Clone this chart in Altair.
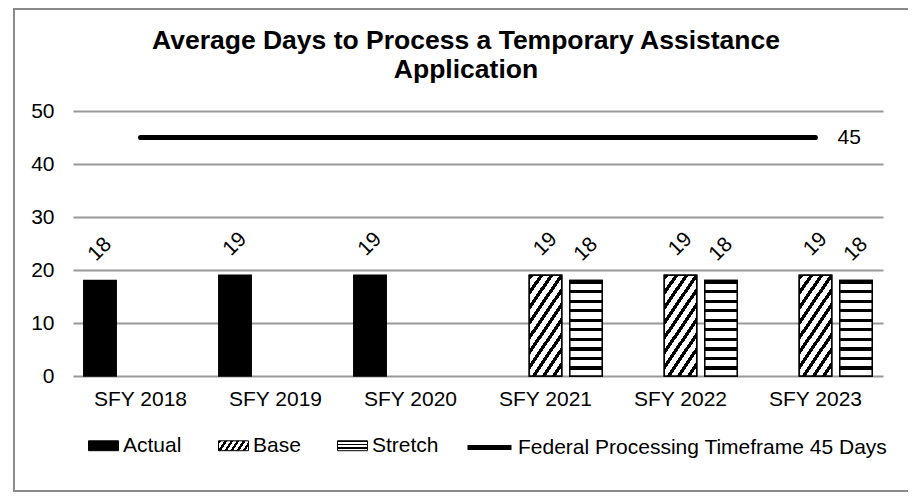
import json
import altair as alt
import pandas as pd

FONT = "Liberation Sans"
FS = 21

categories = ["SFY 2018", "SFY 2019", "SFY 2020", "SFY 2021", "SFY 2022", "SFY 2023"]
actual = [18, 19, 19, None, None, None]
base = [None, None, None, 19, 19, 19]
stretch = [None, None, None, 18, 18, 18]
federal = [45, 45, 45, 45, 45, 45]
series_names = ["Actual", "Base", "Stretch"]
federal_name = "Federal Processing Timeframe 45 Days"
title_lines = ["Average Days to Process a Temporary Assistance", "Application"]
y_ticks = [0, 10, 20, 30, 40, 50]

rows = []
for name, vals in zip(series_names, [actual, base, stretch]):
    for c, v in zip(categories, vals):
        if v is not None:
            rows.append({"category": c, "series": name, "value": v})
bars_df = pd.DataFrame(rows)
line_df = pd.DataFrame({"category": categories, "value": federal,
                        "line_series": [federal_name] * len(categories)})


def stripes(n, black_frac, x2, y2):
    stops = []
    for i in range(n):
        a = round(i / n, 4)
        b = round((i + black_frac) / n, 4)
        c = round((i + 1) / n, 4)
        stops += [{"offset": a, "color": "black"}, {"offset": b, "color": "black"},
                  {"offset": b, "color": "white"}, {"offset": c, "color": "white"}]
    return {"gradient": "linear", "x1": 0, "y1": 0, "x2": x2, "y2": y2, "stops": stops}


base_grad = stripes(10, 0.4, 0.572, 1.2035)
stretch_grad = stripes(10, 0.33, 0, 1)
base_leg = stripes(6, 0.45, 1.165, 0.259)
stretch_leg = stripes(3, 0.4, 0, 1)

x_enc = alt.X("category:N", sort=categories,
              scale=alt.Scale(domain=categories, paddingInner=0.1, paddingOuter=0.05),
              axis=alt.Axis(title=None, labelAngle=0, domain=False, ticks=False,
                            labelPadding=12, labelFontSize=FS, labelFont=FONT,
                            labelColor="black"))
xoff = alt.XOffset("series:N", scale=alt.Scale(domain=series_names, paddingInner=0.2,
                                               paddingOuter=0.1))
y_enc = alt.Y("value:Q", scale=alt.Scale(domain=[0, 50]),
              axis=alt.Axis(title=None, values=y_ticks, domain=False, ticks=False,
                            labelPadding=19, labelFontSize=FS, labelFont=FONT,
                            labelColor="black", gridColor="#999999", gridWidth=2))

border = alt.Chart(pd.DataFrame({"a": [0]})).mark_rect(
    filled=False, stroke="#8a8a8a", strokeWidth=2
).encode(x=alt.value(-59), x2=alt.value(837), y=alt.value(-102), y2=alt.value(380))

bars = alt.Chart(bars_df).mark_bar(stroke="black", strokeWidth=1.5).encode(
    x=x_enc, xOffset=xoff, y=y_enc,
    fill=alt.Fill("series:N",
                  scale=alt.Scale(domain=series_names,
                                  range=["black", {"expr": json.dumps(base_leg)},
                                         {"expr": json.dumps(stretch_leg)}]),
                  legend=alt.Legend(orient="none", legendX=15, legendY=319,
                                    direction="horizontal", columns=3, title=None,
                                    symbolType="M-1,-0.33H1V0.33H-1Z", symbolSize=900,
                                    symbolStrokeColor="black", symbolStrokeWidth=1,
                                    symbolOpacity=1, labelFontSize=FS, labelFont=FONT,
                                    labelColor="black", labelOffset=4, columnPadding=34,
                                    labelLimit=400, padding=0))
)

base_overlay = alt.Chart(bars_df).transform_filter(alt.datum.series == "Base").mark_bar(
    fill=base_grad, stroke="black", strokeWidth=1.5
).encode(x=x_enc, xOffset=xoff, y=y_enc)

stretch_overlay = alt.Chart(bars_df).transform_filter(alt.datum.series == "Stretch").mark_bar(
    fill=stretch_grad, stroke="black", strokeWidth=1.5
).encode(x=x_enc, xOffset=xoff, y=y_enc)

labels = alt.Chart(bars_df).mark_text(
    angle=315, radius=31, fontSize=FS, font=FONT, color="black",
    align="center", baseline="middle"
).encode(x=x_enc, xOffset=xoff, y=y_enc, text="value:Q")

line = alt.Chart(line_df).mark_line(strokeWidth=5, strokeCap="round").encode(
    x=x_enc, y=y_enc,
    stroke=alt.Stroke("line_series:N", scale=alt.Scale(range=["black"]),
                      legend=alt.Legend(orient="none", legendX=392, legendY=312,
                                        title=None, symbolType="stroke", symbolSize=1936,
                                        symbolStrokeWidth=5, labelFontSize=FS,
                                        labelFont=FONT, labelColor="black",
                                        labelOffset=4, labelLimit=600, padding=0))
)

line_label = alt.Chart(line_df).transform_filter(
    alt.datum.category == categories[-1]
).mark_text(align="left", baseline="middle", dx=22, fontSize=FS, font=FONT,
            color="black").encode(x=x_enc, y=y_enc, text="value:Q")

chart = alt.layer(border, bars, base_overlay, stretch_overlay, labels, line, line_label).properties(
    width=810, height=265,
    title=alt.TitleParams(title_lines, fontSize=26.5, font=FONT, fontWeight="bold",
                          anchor="middle", dx=-12, offset=-102, baseline="bottom",
                          lineHeight=29, color="black"),
    autosize=alt.AutoSizeParams(type="none"),
    padding={"left": 65, "top": 103, "right": 25, "bottom": 116},
).configure_view(strokeWidth=0).resolve_scale(fill="independent", stroke="independent")

chart.save("out.html", embed_options={"renderer": "svg", "actions": False})
